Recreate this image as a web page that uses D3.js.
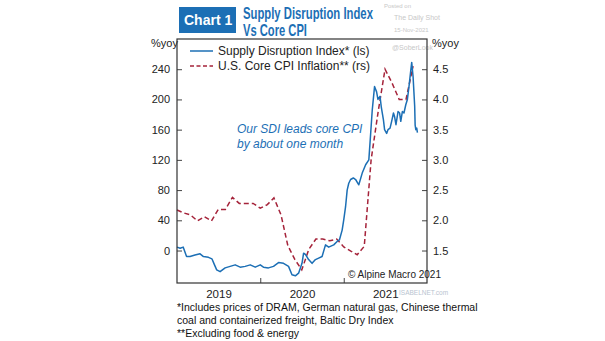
<!DOCTYPE html>
<html>
<head>
<meta charset="utf-8">
<script src="https://cdn.jsdelivr.net/npm/d3@7"></script>
<style>
  body { margin: 0; background: #fff; }
  text { font-family: "Liberation Sans", Arial, sans-serif; }
</style>
</head>
<body>
<svg id="graph"></svg>
<script>
// Supply Disruption Index (left scale)
var sdiDates = ["2019-01-01","2019-01-15","2019-01-28","2019-02-12","2019-02-27","2019-03-21","2019-04-12","2019-04-27",
  "2019-05-19","2019-06-03","2019-06-13","2019-06-24","2019-07-09","2019-07-31","2019-08-22","2019-09-13","2019-10-05",
  "2019-10-27","2019-11-18","2019-12-10","2020-01-01","2020-01-15","2020-02-06","2020-02-28","2020-03-21","2020-04-12",
  "2020-05-04","2020-05-19","2020-06-03","2020-06-17","2020-07-02","2020-07-09","2020-07-17","2020-07-31","2020-08-15",
  "2020-08-30","2020-09-13","2020-09-28","2020-10-13","2020-10-27","2020-11-18","2020-12-03","2020-12-13","2020-12-25",
  "2021-01-01","2021-01-09","2021-01-16","2021-01-23","2021-01-31","2021-02-12","2021-02-22","2021-03-08","2021-03-23",
  "2021-04-07","2021-04-21","2021-04-29","2021-05-06","2021-05-16","2021-05-25","2021-05-31","2021-06-09","2021-06-15",
  "2021-06-24","2021-06-29","2021-07-08","2021-07-14","2021-07-23","2021-07-30","2021-08-07","2021-08-12","2021-08-18",
  "2021-08-27","2021-09-03","2021-09-08","2021-09-15","2021-09-22","2021-09-30","2021-10-07","2021-10-14","2021-10-22",
  "2021-10-26","2021-11-01","2021-11-08","2021-11-10","2021-11-13","2021-11-17","2021-11-20"];
var sdiValues = [4.5, 3, 4.5, -8, -8, -6, -4.4, -8,
  -9, -11, -18, -25.6, -28, -23, -21, -19, -22,
  -21, -19, -22, -19, -22, -23, -21, -16, -17,
  -21, -32, -33.5, -30, -17, -3.5, -5, -12, -17,
  -12, -10, -8, 7.5, 4.5, 7.5, 12, 14, 27,
  40.6, 58, 80, 89, 94, 96, 94, 87, 102.5,
  113.5, 120, 155, 186, 217, 210, 200, 204, 189,
  173, 160, 155, 160, 162, 171, 182, 177, 166.5,
  184, 182, 171, 184, 182, 193, 200, 217, 239,
  249, 230, 191, 166, 160, 162, 156];

// U.S. core CPI inflation (right scale), monthly
var cpiMonths = d3.timeMonths(new Date(2019, 0, 1), new Date(2021, 11, 1));
var cpiValues = [2.17, 2.12, 2.09, 1.99, 2.06, 1.99, 2.18, 2.18, 2.38, 2.28, 2.28, 2.28,
  2.2, 2.26, 2.37, 2.09, 1.58, 1.35, 1.18, 1.52, 1.69, 1.69, 1.66, 1.69,
  1.56, 1.49, 1.43, 1.57, 3.0, 3.8, 4.5, 4.27, 4.0, 4.0, 4.55];

var leftTicks = [0, 40, 80, 120, 160, 200, 240];
var rightTicks = [1.5, 2.0, 2.5, 3.0, 3.5, 4.0, 4.5];
var years = [2019, 2020, 2021];

var blue = "#1c6fb5", red = "#a5233a";

var svg = d3.select("#graph")
    .attr("width", 605)
    .attr("height", 341);

// plot frame
var box = {left: 177, right: 427, top: 39, bottom: 283};

var x = d3.scaleTime()
    .domain([new Date(2019, 0, 1), new Date(2022, 0, 1)])
    .range([box.left, box.right]);
var yL = d3.scaleLinear().domain([-43, 280]).range([box.bottom, box.top]);
var yR = d3.scaleLinear().domain([1.5 - 43 / 80, 1.5 + 280 / 80]).range([box.bottom, box.top]);

// title block
svg.append("rect")
    .attr("x", 179).attr("y", 7).attr("width", 57).attr("height", 26)
    .attr("fill", blue);
svg.append("text")
    .attr("x", 184).attr("y", 25)
    .attr("fill", "#fff").attr("font-weight", "bold").attr("font-size", 14)
    .text("Chart 1");

// condensed look: squeeze the title horizontally to the width seen in the picture
function squeezed(txt, xPos, yPos, w) {
  var t = svg.append("text")
      .attr("fill", blue).attr("font-weight", "bold").attr("font-size", 16)
      .text(txt);
  var len = t.node().getComputedTextLength();
  t.attr("transform", "translate(" + xPos + "," + yPos + ") scale(" + (w / len) + ",1)");
}
squeezed("Supply Disruption Index", 243, 19, 130);
squeezed("Vs Core CPI", 243, 36, 64);

// faint watermarks
var wm = [["Posted on", 384, 8, 6], ["The Daily Shot", 394, 20, 7], ["15-Nov-2021", 394, 32, 6], ["@SoberLook", 392, 50, 7]];
wm.forEach(function(d) {
  svg.append("text").attr("x", d[1]).attr("y", d[2]).attr("font-size", d[3])
    .attr("fill", "#c8c8c8").text(d[0]);
});

// axes
svg.append("g")
    .attr("transform", "translate(" + box.left + ",0)")
    .call(d3.axisLeft(yL).tickValues(leftTicks).tickSizeInner(-5).tickSizeOuter(0).tickPadding(7))
    .call(function(g) { g.select(".domain").remove(); })
    .selectAll("text").attr("font-size", 11).attr("fill", "#222");

svg.append("g")
    .attr("transform", "translate(" + box.right + ",0)")
    .call(d3.axisRight(yR).tickValues(rightTicks).tickFormat(d3.format(".1f")).tickSizeInner(-5).tickSizeOuter(0).tickPadding(6))
    .call(function(g) { g.select(".domain").remove(); })
    .selectAll("text").attr("font-size", 11).attr("fill", "#222");

svg.append("g")
    .attr("transform", "translate(0," + box.bottom + ")")
    .call(d3.axisBottom(x).tickValues(years.slice(1).map(function(y) { return new Date(y, 0, 1); }))
      .tickFormat("").tickSizeInner(-5).tickSizeOuter(0))
    .call(function(g) { g.select(".domain").remove(); });

svg.append("g")
    .attr("transform", "translate(0," + box.bottom + ")")
    .call(d3.axisBottom(x).tickValues(years.map(function(y) { return new Date(y, 6, 2); }))
      .tickFormat(d3.timeFormat("%Y")).tickSize(0).tickPadding(7))
    .call(function(g) { g.select(".domain").remove(); })
    .selectAll("text").attr("font-size", 11.5).attr("fill", "#222");

svg.selectAll(".tick line").attr("stroke", "#444");

svg.append("text").attr("x", 151).attr("y", 47).attr("font-size", 11).attr("fill", "#222").text("%yoy");
svg.append("text").attr("x", 432).attr("y", 47).attr("font-size", 11).attr("fill", "#222").text("%yoy");

// lines
var cpiLine = d3.line()
    .x(function(d, i) { return x(cpiMonths[i]); })
    .y(function(d) { return yR(d); });
svg.append("path")
    .datum(cpiValues)
    .attr("fill", "none").attr("stroke", red).attr("stroke-width", 1.5)
    .attr("stroke-dasharray", "5,3")
    .attr("d", cpiLine);

var parse = d3.timeParse("%Y-%m-%d");
var sdiLine = d3.line()
    .x(function(d, i) { return x(parse(sdiDates[i])); })
    .y(function(d) { return yL(d); });
svg.append("path")
    .datum(sdiValues)
    .attr("fill", "none").attr("stroke", blue).attr("stroke-width", 1.5)
    .attr("stroke-linejoin", "round")
    .attr("d", sdiLine);

// frame
svg.append("rect")
    .attr("x", box.left).attr("y", box.top)
    .attr("width", box.right - box.left).attr("height", box.bottom - box.top)
    .attr("fill", "none").attr("stroke", "#333").attr("stroke-width", 1.2);

// legend
svg.append("line").attr("x1", 190).attr("x2", 213).attr("y1", 51).attr("y2", 51)
    .attr("stroke", blue).attr("stroke-width", 1.5);
svg.append("text").attr("x", 218).attr("y", 55).attr("font-size", 12).attr("fill", "#222")
    .text("Supply Disruption Index* (ls)");
svg.append("line").attr("x1", 190).attr("x2", 213).attr("y1", 66).attr("y2", 66)
    .attr("stroke", red).attr("stroke-width", 1.5).attr("stroke-dasharray", "4,2.5");
svg.append("text").attr("x", 218).attr("y", 70).attr("font-size", 12).attr("fill", "#222")
    .text("U.S. Core CPI Inflation** (rs)");

// annotation
svg.append("text").attr("x", 237).attr("y", 133).attr("font-size", 12).attr("font-style", "italic")
    .attr("fill", blue).text("Our SDI leads core CPI");
svg.append("text").attr("x", 237).attr("y", 148).attr("font-size", 12).attr("font-style", "italic")
    .attr("fill", blue).text("by about one month");

svg.append("text").attr("x", 348).attr("y", 278).attr("font-size", 10).attr("fill", "#222")
    .text("\u00a9 Alpine Macro 2021");

svg.append("text").attr("x", 399).attr("y", 295).attr("font-size", 6.5).attr("fill", "#b8c4d0").text("ISABELNET.com");

// footnotes
var notes = ["*Includes prices of DRAM, German natural gas, Chinese thermal",
  "coal and containerized freight, Baltic Dry Index",
  "**Excluding food & energy"];
notes.forEach(function(t, i) {
  svg.append("text").attr("x", 177).attr("y", 311 + i * 13).attr("font-size", 10.5).attr("fill", "#111").text(t);
});
</script>
</body>
</html>
